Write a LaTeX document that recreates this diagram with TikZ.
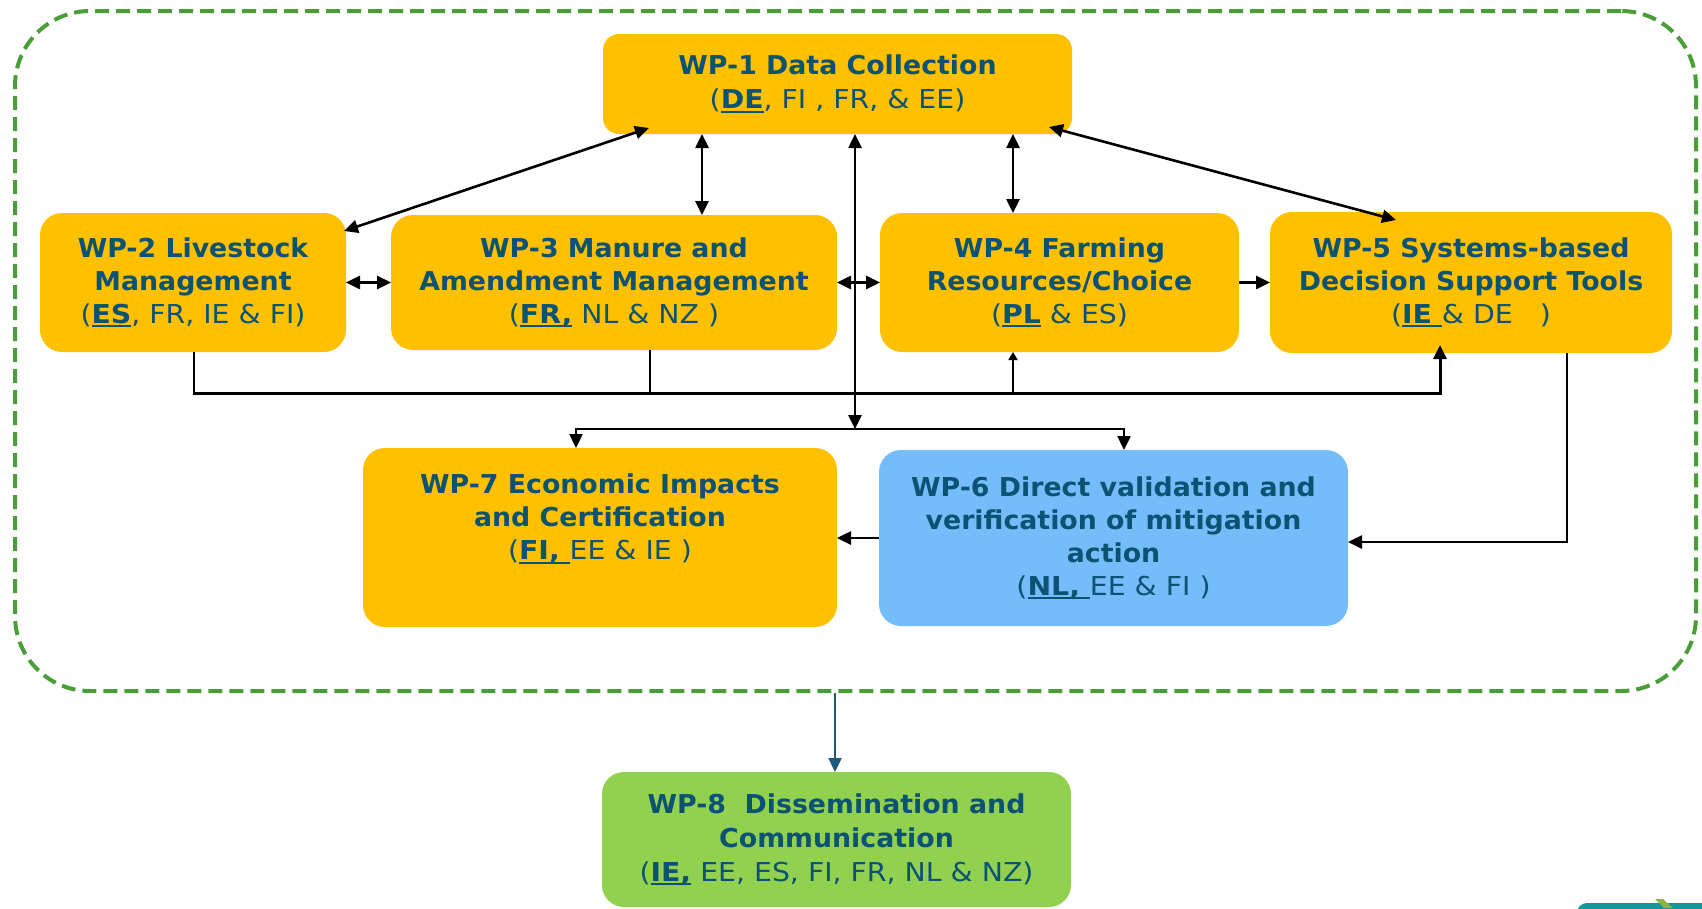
\documentclass[tikz,border=0pt]{standalone}
\usepackage{fontspec}
\setmainfont{DejaVu Sans}
\newfontfamily\titlefont{DejaVu Sans}[FakeStretch=1.03]
\newfontfamily\regfont{DejaVu Sans}[FakeStretch=1.09]
\usetikzlibrary{arrows.meta,calc}
\definecolor{wpyellow}{HTML}{FFC000}
\definecolor{wpblue}{HTML}{75BCFA}
\definecolor{wpgreen}{HTML}{92D050}
\definecolor{wptext}{RGB}{12,82,115}
\definecolor{framegreen}{HTML}{4A9E38}
\definecolor{arrteal}{HTML}{1B5A7A}
\definecolor{logoteal}{HTML}{12989A}
\definecolor{logogreen}{HTML}{8DB43C}
\newsavebox\codebox
\newcommand\ulcode[1]{\sbox\codebox{\bfseries #1}\rlap{\rule[-4pt]{\wd\codebox}{2.2pt}}\usebox\codebox}
\newcommand\tb[1]{{\titlefont\bfseries #1}}
\tikzset{
  wpbox/.style={rounded corners=22pt, align=center, text=wptext, inner sep=0pt, outer sep=0pt,
    font=\regfont\fontsize{26}{33}\selectfont},
  widebox/.style={wpbox, font=\regfont\fontsize{26}{34}\selectfont},
  wplabel/.style={align=center, text=wptext, inner sep=0pt, font=\regfont\fontsize{26}{33}\selectfont},
  arr/.style={-{Triangle[length=14pt,width=13pt]}, line width=2.6pt},
  dbl/.style={{Triangle[length=14pt,width=13pt]}-{Triangle[length=14pt,width=13pt]}, line width=2.6pt},
  drop/.style={line width=2pt},
}
\begin{document}
\begin{tikzpicture}[x=1pt,y=-1pt]
\useasboundingbox (0,0) rectangle (1702,908);
\clip (0,0) rectangle (1702,908);
% frame
\node[draw=framegreen, line width=4pt, dash pattern=on 14pt off 7pt, rounded corners=75pt,
  minimum width=1681pt, minimum height=680pt, inner sep=0pt] (frame) at (855.5,351) {};
% boxes
\node[widebox, fill=wpyellow, rounded corners=16pt, minimum width=469pt, minimum height=100pt] (wp1) at (837.5,84)
  {\tb{WP-1 Data Collection}\\(\ulcode{DE}, FI , FR, \& EE)};
\node[wpbox, fill=wpyellow, minimum width=306pt, minimum height=139pt] (wp2) at (193,282.5)
  {\tb{WP-2 Livestock}\\\tb{Management}\\(\ulcode{ES}, FR, IE \& FI)};
\node[wpbox, fill=wpyellow, minimum width=446pt, minimum height=135pt] (wp3) at (614,282.5)
  {\tb{WP-3 Manure and}\\\tb{Amendment Management}\\(\ulcode{FR,} NL \& NZ )};
\node[wpbox, fill=wpyellow, minimum width=359pt, minimum height=139pt] (wp4) at (1059.5,282.5)
  {\tb{WP-4 Farming}\\\tb{Resources/Choice}\\(\ulcode{PL} \& ES)};
\node[wpbox, fill=wpyellow, minimum width=402pt, minimum height=141pt] (wp5) at (1471,282.5)
  {\tb{WP-5 Systems-based}\\\tb{Decision Support Tools}\\(\ulcode{IE }\& DE\ \ \ )};
\node[wpbox, fill=wpyellow, minimum width=474pt, minimum height=179pt] (wp7) at (600,537.5) {};
\node[wplabel] (wp7t) at (600,519)
  {\tb{WP-7 Economic Impacts}\\\tb{and Certification}\\(\ulcode{FI, }EE \& IE )};
\node[wpbox, fill=wpblue, minimum width=469pt, minimum height=176pt] (wp6) at (1113.5,538)
  {\tb{WP-6 Direct validation and}\\\tb{verification of mitigation}\\\tb{action}\\(\ulcode{NL, }EE \& FI )};
\node[widebox, fill=wpgreen, minimum width=469pt, minimum height=135pt] (wp8) at (836.5,839.5)
  {\tb{WP-8\ \ Dissemination and}\\\tb{Communication}\\(\ulcode{IE,} EE, ES, FI, FR, NL \& NZ)};
% logo fragment
\fill[logoteal, rounded corners=10pt] (1577,903) rectangle (1760,950);
\fill[logogreen] (1655,899) -- (1663,899) -- (1673,908) -- (1664,908) -- cycle;
% connectors from WP-1
\draw[dbl] ([xshift=46pt,yshift=6pt]wp1.south west) -- ([xshift=-2pt,yshift=-18pt]wp2.north east);
\draw[dbl] ([xshift=-135.5pt]wp1.south) -- ([xshift=-135.5pt]wp1.south |- wp3.north);
\draw[dbl] ([xshift=175.5pt]wp1.south) -- ([xshift=175.5pt]wp1.south |- wp4.north);
\draw[dbl] ([xshift=-23pt,yshift=7pt]wp1.south east) -- ([xshift=-75pt,yshift=-8pt]wp5.north);
\coordinate (split) at (855,429);
\draw[dbl] ([xshift=17.5pt]wp1.south) -- ([xshift=17.5pt]wp1.south |- split);
\draw[dbl, line width=2.4pt] ([xshift=-24pt]wp7.north) |- (split) -| ([xshift=10.5pt]wp6.north);
% row links
\draw[dbl] (wp2.east) -- (wp3.west);
\draw[dbl] (wp3.east) -- (wp4.west);
\draw[arr] (wp4.east) -- (wp5.west);
% bus
\coordinate (busy) at (0,393);
\draw[drop] ([xshift=1pt]wp2.south) -- ([xshift=1pt]wp2.south |- busy);
\draw[drop] ([xshift=36pt]wp3.south) -- ([xshift=36pt]wp3.south |- busy);
\draw[arr, line width=3pt] ([xshift=0pt]wp2.south |- busy) -- ([xshift=-31pt]wp5.south |- busy) -- ([xshift=-31pt,yshift=8pt]wp5.south);
\draw[line width=2pt, -{Triangle[length=8pt,width=9pt]}] ([xshift=-46.5pt]wp4.south |- busy) -- ([xshift=-46.5pt]wp4.south);
% to WP-6 / WP-7
\draw[arr] ([xshift=96pt]wp5.south) |- ([yshift=-4pt]wp6.east);
\draw[arr] (wp6.west) -- (wp6.west -| wp7.east);
% to WP-8
\draw[arr, draw=arrteal, fill=arrteal, line width=2.4pt] ([xshift=-1.5pt]wp8.north |- frame.south) -- ([xshift=-1.5pt]wp8.north);
\end{tikzpicture}
\end{document}
